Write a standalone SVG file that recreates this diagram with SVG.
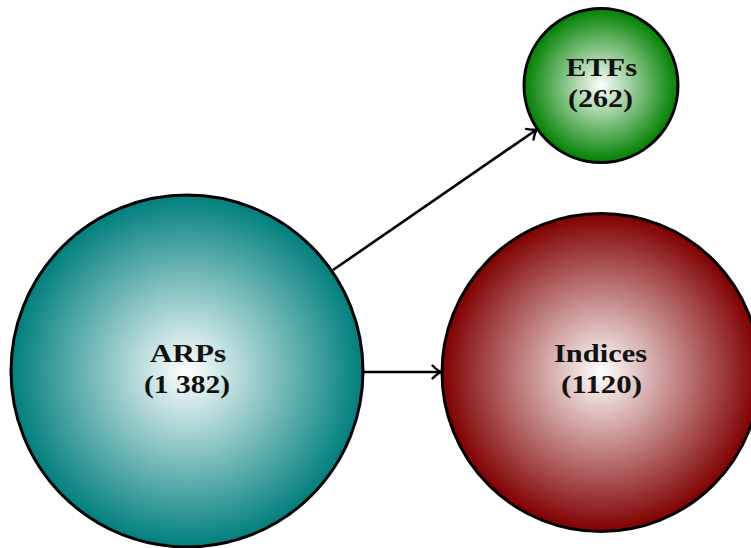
<svg xmlns="http://www.w3.org/2000/svg" width="751" height="548" viewBox="0 0 751 548">
<defs>
<radialGradient id="gTeal" cx="50%" cy="50%" r="50%">
<stop offset="0" stop-color="#ffffff"/>
<stop offset="1" stop-color="#007f7d"/>
</radialGradient>
<radialGradient id="gGreen" cx="50%" cy="50%" r="50%">
<stop offset="0" stop-color="#ffffff"/>
<stop offset="1" stop-color="#008000"/>
</radialGradient>
<radialGradient id="gRed" cx="50%" cy="50%" r="50%">
<stop offset="0" stop-color="#ffffff"/>
<stop offset="1" stop-color="#800000"/>
</radialGradient>
<marker id="arr" markerUnits="userSpaceOnUse" markerWidth="16" markerHeight="16" refX="0" refY="0" viewBox="-10 -8 14 16" orient="auto" overflow="visible">
<path d="M -7.5,-6.5 Q -2,-1 1,0 Q -2,1 -7.5,6.5" fill="none" stroke="#000" stroke-width="2.4" stroke-linecap="round" stroke-linejoin="round"/>
</marker>
</defs>
<style>
.node circle { stroke: #000; stroke-width: 3; }
.lbl { font-family: "Liberation Serif", "Times New Roman", serif; font-weight: bold; font-size: 26px; fill: #111; text-anchor: middle; }
.conn line { stroke: #000; stroke-width: 2.6; fill: none; marker-end: url(#arr); }
</style>
<g id="connectors" class="conn">
<line x1="333" y1="270" x2="536" y2="130"/>
<line x1="364" y1="372" x2="440" y2="372"/>
</g>
<g id="node-arps" class="node">
<circle cx="187" cy="371" r="176" fill="url(#gTeal)"/>
<text class="lbl" x="188" y="362" textLength="76" lengthAdjust="spacingAndGlyphs">ARPs</text>
<text class="lbl" x="187" y="393" textLength="86" lengthAdjust="spacingAndGlyphs">(1 382)</text>
</g>
<g id="node-etfs" class="node">
<circle cx="601" cy="85.5" r="77" fill="url(#gGreen)"/>
<text class="lbl" x="601.5" y="76" textLength="71" lengthAdjust="spacingAndGlyphs">ETFs</text>
<text class="lbl" x="600.5" y="107" textLength="65" lengthAdjust="spacingAndGlyphs">(262)</text>
</g>
<g id="node-indices" class="node">
<circle cx="601" cy="372.5" r="159" fill="url(#gRed)"/>
<text class="lbl" x="600.5" y="362" textLength="93" lengthAdjust="spacingAndGlyphs">Indices</text>
<text class="lbl" x="601.5" y="393" textLength="81" lengthAdjust="spacingAndGlyphs">(1120)</text>
</g>
</svg>
